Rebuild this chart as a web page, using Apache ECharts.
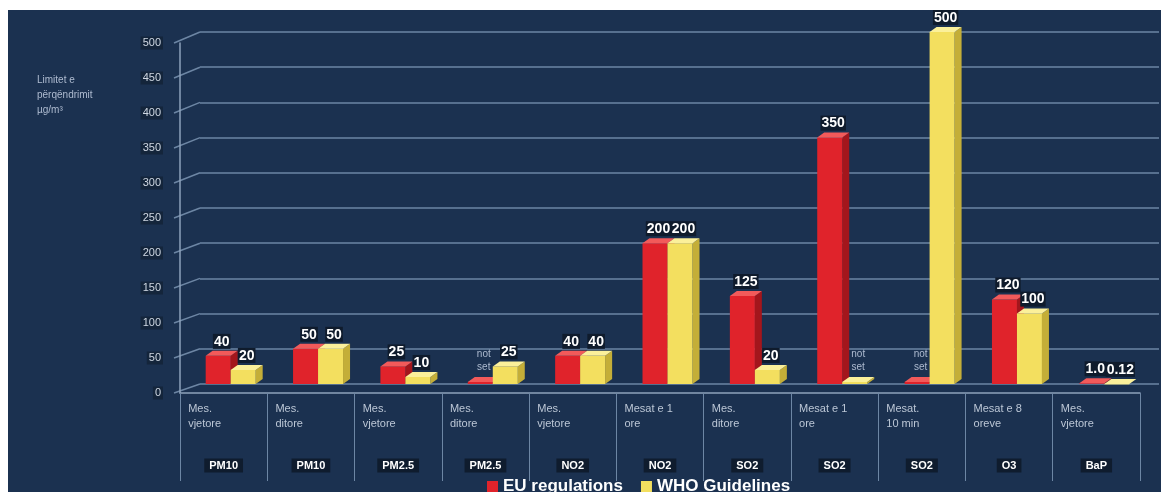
<!DOCTYPE html>
<html>
<head>
<meta charset="utf-8">
<script src="https://cdn.jsdelivr.net/npm/echarts@6/dist/echarts.min.js"></script>
<style>
  html, body { margin: 0; padding: 0; background: #ffffff; }
  #chart { position: absolute; left: 8px; top: 10px; width: 1153px; height: 482px; }
</style>
</head>
<body>
<div id="chart"></div>
<script>
// Averaging period shown under each group, and the pollutant it applies to
const measures = [
  'Mes.\nvjetore', 'Mes.\nditore', 'Mes.\nvjetore', 'Mes.\nditore', 'Mes.\nvjetore',
  'Mesat e 1\nore', 'Mes.\nditore', 'Mesat e 1\nore', 'Mesat.\n10 min', 'Mesat e 8\noreve', 'Mes.\nvjetore'
];
const pollutants = ['PM10', 'PM10', 'PM2.5', 'PM2.5', 'NO2', 'NO2', 'SO2', 'SO2', 'SO2', 'O3', 'BaP'];

// Limit values; null = "not set"
const euValues  = [40, 50, 25, null, 40, 200, 125, 350, null, 120, 1];
const whoValues = [20, 50, 10, 25, 40, 200, 20, null, 500, 100, 0.12];

const yTicks = [0, 50, 100, 150, 200, 250, 300, 350, 400, 450, 500];
const seriesNames = ['EU regulations', 'WHO Guidelines'];
const axisTitle = 'Limitet e\npërqëndrimit\nµg/m³';
const notSetText = 'not\nset';

// ---- layout / style ----
const BG = '#1b3150';
const GRID_LINE = '#6d86a4';
const FONT = '"Liberation Sans", Arial, sans-serif';
const GRID_BARS  = { left: 182, right: 10, top: 22, bottom: 108 };
const GRID_FRONT = { left: 172, right: 21, top: 33, bottom: 99 };
const GRID_BACK  = { left: 192, right: 2,  top: 22, bottom: 108 };
const BAR_W = 25, DX = 7, DY = 5, STUB = 3;
const OFFSETS = [-15.5, 9.5];
const PALETTES = [
  { front: '#e0232b', top: '#f25a5a', side: '#a3161c' },
  { front: '#f3df5f', top: '#fbf09a', side: '#c4ae38' }
];

function fmt(v) {
  if (Number.isInteger(v) && v < 10) return v.toFixed(1);
  return String(v);
}

function bar3d(seriesIdx, values) {
  const pal = PALETTES[seriesIdx];
  return function (params, api) {
    const i = api.value(0);
    const raw = values[i];
    const v = api.value(1);
    const base = api.coord([i, 0]);
    const topPt = api.coord([i, v]);
    const cx = base[0] + OFFSETS[seriesIdx];
    const x0 = cx - BAR_W / 2, x1 = cx + BAR_W / 2;
    const y0 = base[1], y1 = topPt[1];
    const children = [
      { type: 'polygon', shape: { points: [[x1, y1], [x1 + DX, y1 - DY], [x1 + DX, y0 - DY], [x1, y0]] },
        style: { fill: pal.side } },
      { type: 'rect', shape: { x: x0, y: y1, width: BAR_W, height: Math.max(y0 - y1, 0.5) },
        style: { fill: pal.front } },
      { type: 'polygon', shape: { points: [[x0, y1], [x0 + DX, y1 - DY], [x1 + DX, y1 - DY], [x1, y1]] },
        style: { fill: pal.top } }
    ];
    if (raw == null) {
      children.push({
        type: 'text', x: cx + DX / 2, y: y1 - DY - 3, z2: 10,
        style: { text: notSetText, fill: '#aebbd0', font: '10px ' + FONT,
                 align: 'center', verticalAlign: 'bottom', lineHeight: 13 }
      });
    } else {
      children.push({
        type: 'text', x: cx + DX / 2, y: y1 - DY - 2, z2: 10,
        style: { text: fmt(raw), fill: '#ffffff', font: 'bold 14px ' + FONT,
                 align: 'center', verticalAlign: 'bottom',
                 backgroundColor: '#0f1b2c', padding: [1, 1, 0, 1] }
      });
    }
    return { type: 'group', children: children };
  };
}

const chart = echarts.init(document.getElementById('chart'), null, { renderer: 'canvas' });

const option = {
  backgroundColor: BG,
  animation: false,
  color: [PALETTES[0].front, PALETTES[1].front],
  grid: [
    Object.assign({ containLabel: false }, GRID_BARS),
    Object.assign({ containLabel: false }, GRID_FRONT),
    Object.assign({ containLabel: false }, GRID_BACK)
  ],
  xAxis: [
    { gridIndex: 0, type: 'category', data: pollutants, show: false },
    {
      gridIndex: 1, type: 'category', data: pollutants,
      axisLine: { show: true, lineStyle: { color: '#8ea2bb', width: 1.5 } },
      axisTick: { show: true, interval: 0, length: 88, lineStyle: { color: GRID_LINE, width: 1 } },
      axisLabel: {
        interval: 0, margin: 8, align: 'center',
        formatter: function (val, idx) {
          const lines = measures[idx].split('\n');
          return '{m|' + lines[0] + '}\n{m|' + lines[1] + '}\n{g|}\n{p|' + val + '}';
        },
        rich: {
          m: { width: 71, align: 'left', fontSize: 11, lineHeight: 15, color: '#bcc7d6', fontFamily: FONT },
          g: { lineHeight: 27 },
          p: { align: 'center', fontSize: 11, fontWeight: 'bold', color: '#ffffff', fontFamily: FONT,
               backgroundColor: '#0f1c2e', padding: [2, 5, 1, 5], lineHeight: 15 }
        }
      }
    },
    { gridIndex: 2, type: 'category', data: pollutants, show: false }
  ],
  yAxis: [
    { gridIndex: 0, type: 'value', min: 0, max: 500, interval: 50, show: false },
    {
      gridIndex: 1, type: 'value', min: 0, max: 500, interval: 50,
      axisLine: { show: true, lineStyle: { color: '#8ea2bb', width: 1.5 } },
      axisTick: { show: false },
      splitLine: { show: false },
      axisLabel: {
        margin: 17, fontSize: 11, color: '#cfd7e2', fontFamily: FONT,
        backgroundColor: '#14253b', padding: [1, 2],
        formatter: function (v) { return String(v); }
      }
    },
    {
      gridIndex: 2, type: 'value', min: 0, max: 500, interval: 50,
      axisLine: { show: false }, axisTick: { show: false }, axisLabel: { show: false },
      splitLine: { show: true, lineStyle: { color: GRID_LINE, width: 1.5 } }
    }
  ],
  legend: {
    data: seriesNames,
    left: 474, top: 463,
    icon: 'rect', itemWidth: 11, itemHeight: 11, itemGap: 18,
    textStyle: { color: '#ffffff', fontSize: 17, fontWeight: 'bold', fontFamily: FONT }
  },
  series: [
    {
      name: seriesNames[0], type: 'custom', xAxisIndex: 0, yAxisIndex: 0, clip: false, z: 3,
      itemStyle: { color: PALETTES[0].front },
      encode: { x: 0, y: 1 },
      data: euValues.map(function (v, i) { return [i, v == null ? STUB : v]; }),
      renderItem: bar3d(0, euValues)
    },
    {
      name: seriesNames[1], type: 'custom', xAxisIndex: 0, yAxisIndex: 0, clip: false, z: 4,
      itemStyle: { color: PALETTES[1].front },
      encode: { x: 0, y: 1 },
      data: whoValues.map(function (v, i) { return [i, v == null ? STUB : v]; }),
      renderItem: bar3d(1, whoValues)
    }
  ],
  graphic: [
    {
      type: 'text', left: 29, top: 63, silent: true,
      style: { text: axisTitle, fill: '#aebbd0', font: '10px ' + FONT, lineHeight: 15 }
    }
  ]
};

chart.setOption(option);

// Slanted connectors joining the front tick positions to the back wall gridlines
const connectors = yTicks.map(function (v) {
  const yf = chart.convertToPixel({ yAxisIndex: 1 }, v);
  const yb = chart.convertToPixel({ yAxisIndex: 2 }, v);
  return {
    type: 'line', silent: true,
    shape: { x1: GRID_FRONT.left - 6, y1: yf, x2: GRID_BACK.left, y2: yb },
    style: { stroke: GRID_LINE, lineWidth: 1.5 }
  };
});
chart.setOption({ graphic: option.graphic.concat(connectors) }, { replaceMerge: ['graphic'] });
</script>
</body>
</html>
